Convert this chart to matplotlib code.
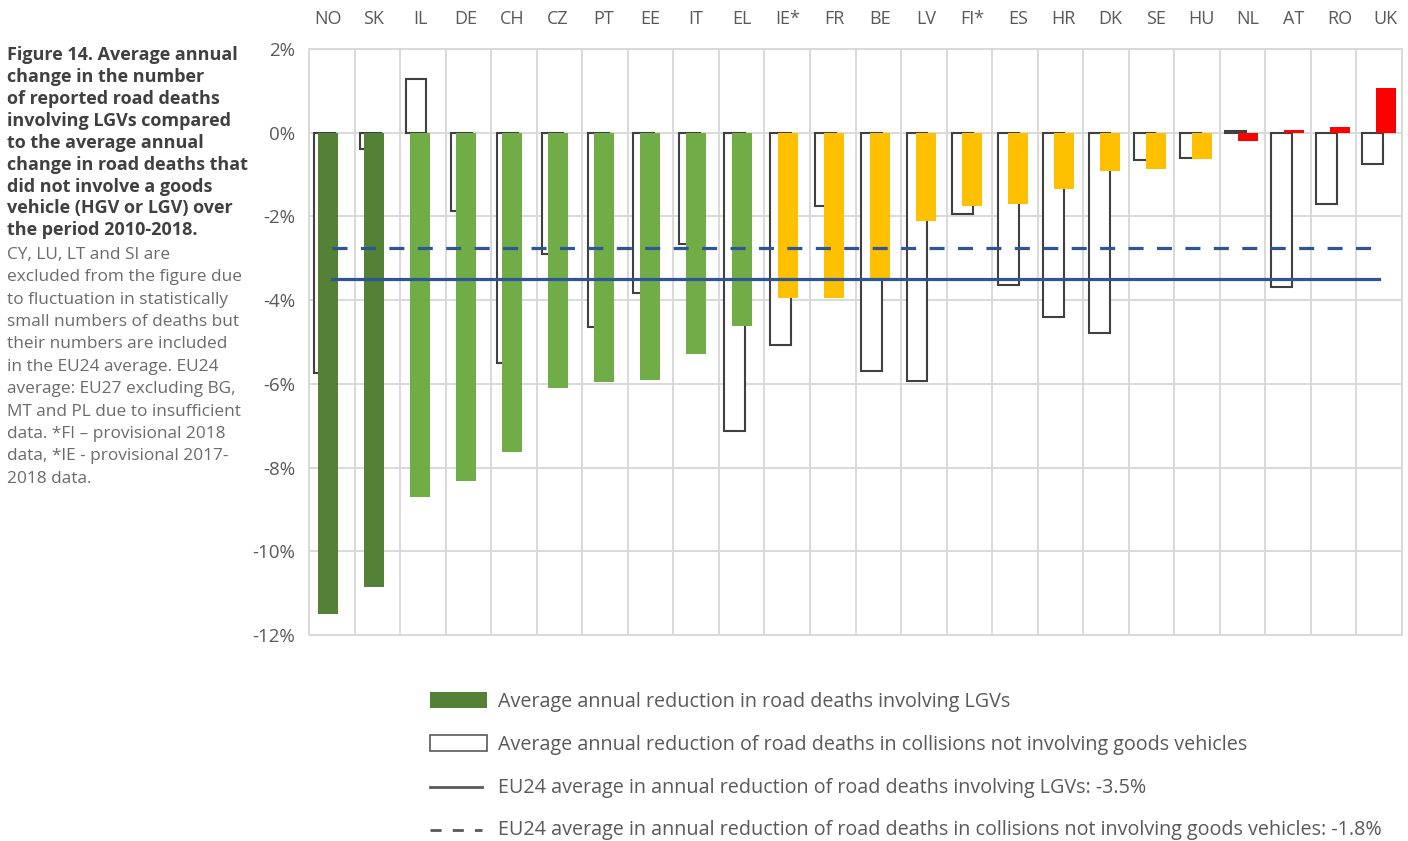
import matplotlib.pyplot as plt
from matplotlib.patches import Rectangle
from matplotlib.lines import Line2D

plt.rcParams['font.family'] = ['Open Sans', 'DejaVu Sans']

# average annual change 2010-2018, % per year
countries = ['NO', 'SK', 'IL', 'DE', 'CH', 'CZ', 'PT', 'EE', 'IT', 'EL', 'IE*', 'FR',
             'BE', 'LV', 'FI*', 'ES', 'HR', 'DK', 'SE', 'HU', 'NL', 'AT', 'RO', 'UK']
lgv_change = [-11.5, -10.85, -8.7, -8.33, -7.62, -6.09, -5.95, -5.9, -5.28, -4.61, -3.95, -3.95,
              -3.47, -2.1, -1.76, -1.71, -1.34, -0.92, -0.86, -0.63, -0.2, 0.06, 0.13, 1.06]
non_goods_change = [-5.74, -0.38, 1.29, -1.88, -5.5, -2.89, -4.65, -3.84, -2.66, -7.12, -5.07, -1.75,
                    -5.69, -5.92, -1.94, -3.64, -4.41, -4.78, -0.66, -0.61, 0.05, -3.69, -1.7, -0.74]
performance_band = ['top'] * 2 + ['good'] * 8 + ['middle'] * 10 + ['poor'] * 4
eu24_lgv = -3.5
eu24_non_goods = -2.75
y_ticks = [-12, -10, -8, -6, -4, -2, 0, 2]

band_colors = {'top': '#538135', 'good': '#70AD47', 'middle': '#FFC000', 'poor': '#FF0000'}
line_blue = '#2F5597'
grid_grey = '#D9D9D9'
text_grey = '#595959'

W, H = 1408, 841
fig = plt.figure(figsize=(W / 100, H / 100), dpi=100)

def px_box(left, top, right, bottom):
    return [left / W, 1 - bottom / H, (right - left) / W, (bottom - top) / H]

ax = fig.add_axes(px_box(309, 49, 1402, 635))
n = len(countries)
xs = list(range(n))

# hollow bars: deaths not involving goods vehicles
ax.bar([x - 0.15 for x in xs], non_goods_change, width=0.46, facecolor='white',
       edgecolor='#404040', linewidth=1.5, zorder=2)
ax.set_xlim(-0.5, n - 0.5)
ax.set_ylim(-12, 2)
ax.set_xticks([x + 0.5 for x in xs[:-1]])
ax.set_xticklabels([])
ax.tick_params(axis='x', length=0)
ax.set_yticks(y_ticks)
ax.set_yticklabels([f'{v}%' for v in y_ticks], color=text_grey, fontsize=13.5)
ax.tick_params(axis='y', length=0, pad=10)
ax.grid(True, color=grid_grey, linewidth=1.4, zorder=0)
ax.set_axisbelow(True)
for s in ax.spines.values():
    s.set_color(grid_grey)
    s.set_linewidth(1.4)

# filled bars on a second x scale, slightly wider spacing
ax2 = ax.twiny()
ax2.bar(xs, lgv_change, width=0.435, color=[band_colors[b] for b in performance_band],
        edgecolor='none', zorder=3)
ax2.plot([0, n - 1], [eu24_non_goods] * 2, color=line_blue, linewidth=2.3,
         linestyle=(0, (4.7, 4.2)), transform=ax.transData, zorder=4)
ax2.plot([0, n - 1], [eu24_lgv] * 2, color=line_blue, linewidth=2.3,
         transform=ax.transData, zorder=4)
ax2.set_xlim(-0.413, 23.35)
ax2.set_ylim(-12, 2)
ax2.set_xticks(xs)
ax2.set_xticklabels(countries, color=text_grey, fontsize=13)
ax2.tick_params(axis='x', length=0, pad=15)
for s in ax2.spines.values():
    s.set_color(grid_grey)
    s.set_linewidth(1.4)

# overlay in pixel units for the caption and the legend
ov = fig.add_axes([0, 0, 1, 1], zorder=-1)
ov.set_xlim(0, W)
ov.set_ylim(H, 0)
ov.axis('off')

caption_bold = ('Figure 14. Average annual\nchange in the number\nof reported road deaths\n'
                'involving LGVs compared\nto the average annual\nchange in road deaths that\n'
                'did not involve a goods\nvehicle (HGV or LGV) over\nthe period 2010-2018.')
caption_note = ('CY, LU, LT and SI are\nexcluded from the figure due\nto fluctuation in statistically\n'
                'small numbers of deaths but\ntheir numbers are included\nin the EU24 average. EU24\n'
                'average: EU27 excluding BG,\nMT and PL due to insufficient\ndata. *FI \u2013 provisional 2018\n'
                'data, *IE - provisional 2017-\n2018 data.')
ov.text(7, 46, caption_bold, fontsize=13, fontweight='bold', color='#404040',
        va='top', ha='left', linespacing=1.28)
ov.text(7, 247, caption_note, fontsize=12.4, color='#6b6b6b',
        va='top', ha='left', linespacing=1.53)

legend_rows = [
    'Average annual reduction in road deaths involving LGVs',
    'Average annual reduction of road deaths in collisions not involving goods vehicles',
    'EU24 average in annual reduction of road deaths involving LGVs: -3.5%',
    'EU24 average in annual reduction of road deaths in collisions not involving goods vehicles: -1.8%',
]
row_y = [702, 745, 788, 830]
ov.add_patch(Rectangle((430, 692), 57, 16, facecolor=band_colors['top'], edgecolor='none'))
ov.add_patch(Rectangle((430, 735), 57, 16, facecolor='white', edgecolor=text_grey, linewidth=1.2))
ov.add_line(Line2D([430, 482], [787, 787], color=text_grey, linewidth=2))
ov.add_line(Line2D([430, 482], [830, 830], color=text_grey, linewidth=2, linestyle=(0, (4, 4))))
for label, y in zip(legend_rows, row_y):
    ov.text(498, y, label, fontsize=14.2, color=text_grey, va='center', ha='left')

fig.savefig('out.png', dpi=100)
